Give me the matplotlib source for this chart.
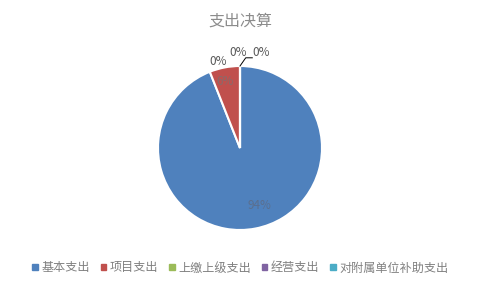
import matplotlib
matplotlib.use('Agg')
import matplotlib.pyplot as plt
import matplotlib.patches as mpatches
import numpy as np

plt.rcParams['font.family'] = ['Noto Sans CJK SC', 'DejaVu Sans']

categories = ['基本支出', '项目支出', '上缴上级支出', '经营支出', '对附属单位补助支出']
values = [94.0, 6.0, 0.0, 0.0, 0.0]
colors = ['#4F81BD', '#C0504D', '#9BBB59', '#8064A2', '#4BACC6']
title = '支出决算'

W, H = 481, 289
fig = plt.figure(figsize=(W / 100, H / 100), dpi=100)

# pie centre ~ (240,148) px, radius ~82 px
cx, cy, r = 240, 148, 82
ax = fig.add_axes([(cx - r) / W, (H - cy - r) / H, 2 * r / W, 2 * r / H])
wedges, _ = ax.pie(values, colors=colors, startangle=90, counterclock=False,
                   radius=1, wedgeprops=dict(edgecolor='white', linewidth=1.5))
ax.set_xlim(-1, 1)
ax.set_ylim(-1, 1)
ax.set_aspect('equal')
ax.axis('off')

total = sum(values)
pcts = ['{:.0f}%'.format(v / total * 100) for v in values]
lab_col = '#595959'
fs = 8.5

# labels inside the big slices
angs = []
start = 90
for v in values:
    span = v / total * 360
    angs.append(np.radians(start - span / 2))
    start -= span
ax.text(0.72 * np.cos(angs[0]) + 0.1, 0.72 * np.sin(angs[0]), pcts[0],
        ha='center', va='center', fontsize=fs, color='#5a6f8f')
ax.text(0.82 * np.cos(angs[1]) - 0.03, 0.82 * np.sin(angs[1]), pcts[1],
        ha='center', va='center', fontsize=fs, color='#8a6a6a')

# zero slices sit at the top
ax.text(-0.27, 1.06, pcts[2], ha='center', va='center', fontsize=fs, color=lab_col, clip_on=False)
ax.text(-0.02, 1.16, pcts[3], ha='center', va='center', fontsize=fs, color=lab_col, clip_on=False)
ax.plot([0.0, 0.07, 0.15], [1.0, 1.10, 1.10], color='black', lw=0.7, clip_on=False)
ax.text(0.26, 1.16, pcts[4], ha='center', va='center', fontsize=fs, color=lab_col, clip_on=False)

fig.text(0.5, 1 - 21 / H, title, ha='center', va='center', fontsize=11.5, color='#8c8c8c')

handles = [mpatches.Rectangle((0, 0), 1, 1, color=c) for c in colors]
fig.legend(handles, categories, loc='center', bbox_to_anchor=(0.5, 1 - 268 / H),
           ncol=5, frameon=False, fontsize=8.7, labelcolor='#808080',
           handlelength=0.45, handleheight=0.45, handletextpad=0.3, columnspacing=0.9)

fig.savefig('out.png', dpi=100)
